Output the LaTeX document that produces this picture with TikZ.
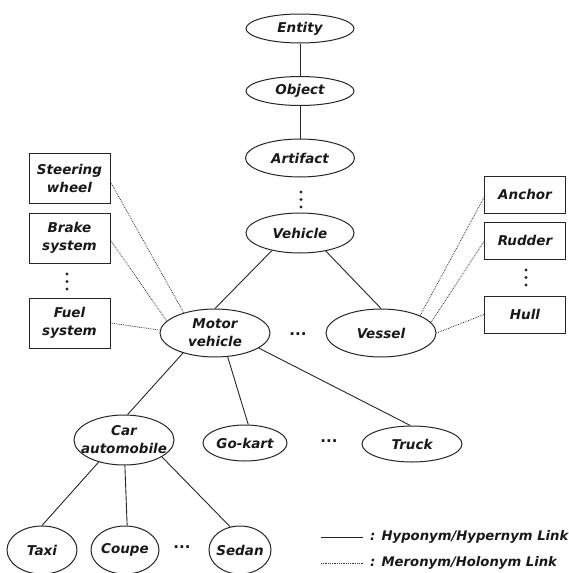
\documentclass[tikz,border=0pt]{standalone}
\usepackage{fontspec}
\setmainfont{DejaVu Sans}
\usetikzlibrary{shapes.geometric}
\begin{document}
\begin{tikzpicture}[x=1pt,y=-1pt,
  txt/.style={font=\fontsize{13.5}{18}\selectfont\bfseries\itshape, align=center, inner sep=0pt, text=black!90},
  lbl/.style={txt},
  ell/.style={draw=black!85, line width=1pt, ellipse, inner sep=0pt},
  box/.style={draw=black!85, line width=1pt, rectangle, minimum width=81pt, minimum height=50pt, txt},
  sbox/.style={box, minimum height=37pt},
  hyp/.style={draw=black!85, line width=0.9pt},
  mer/.style={draw=black!80, line width=0.8pt, densely dotted},
  legtxt/.style={font=\fontsize{13.2}{15}\selectfont\bfseries\itshape, anchor=west, inner sep=0pt, text=black!90},
  dotsnode/.style={txt, font=\fontsize{15}{18}\selectfont\bfseries}
]
\useasboundingbox[fill=white] (0,0) rectangle (569,573);

% hierarchy ellipses
\node[ell, minimum width=108pt, minimum height=29pt, label={[lbl]center:Entity}] (entity) at (300,28.5) {};
\node[ell, minimum width=108pt, minimum height=29pt, label={[lbl]center:Object}] (object) at (300,91) {};
\node[ell, minimum width=109pt, minimum height=38pt, label={[lbl]center:Artifact}] (artifact) at (300,158) {};
\node[ell, minimum width=108pt, minimum height=40pt, label={[lbl]center:Vehicle}] (vehicle) at (300,233) {};
\node[ell, minimum width=110pt, minimum height=48pt, label={[lbl]center:Motor\\vehicle}] (motor) at (215,333) {};
\node[ell, minimum width=110pt, minimum height=48pt, label={[lbl]center:Vessel}] (vessel) at (381,333) {};
\node[ell, minimum width=100pt, minimum height=50pt, label={[lbl]center:Car\\automobile}] (car) at (124,440) {};
\node[ell, minimum width=84pt, minimum height=36pt, label={[lbl]center:Go-kart}] (gokart) at (245,443) {};
\node[ell, minimum width=100pt, minimum height=36pt, label={[lbl]center:Truck}] (truck) at (412,444) {};
\node[ell, minimum width=70pt, minimum height=48pt, label={[lbl]center:Taxi}] (taxi) at (42,550) {};
\node[ell, minimum width=68pt, minimum height=48pt, label={[lbl]center:Coupe}] (coupe) at (125,550) {};
\node[ell, minimum width=62pt, minimum height=48pt, label={[lbl]center:Sedan}] (sedan) at (240,550) {};

% horizontal ellipses dots
\node[dotsnode] (d1) at (298,334) {...};
\node[dotsnode] (d2) at (329,441) {...};
\node[dotsnode] (d3) at (182,547) {...};

% vertical dots
\foreach \yy in {192,199.5,207} \fill[black!85] (301,\yy) circle (1.7);
\foreach \yy in {274,281.5,289} \fill[black!85] (67,\yy) circle (1.7);
\foreach \yy in {270,277.5,285} \fill[black!85] (526,\yy) circle (1.7);

% part boxes
\node[box] (steer) at (69.5,178) {Steering\\wheel};
\node[box] (brake) at (69.5,238) {Brake\\system};
\node[box] (fuel) at (69.5,323) {Fuel\\system};
\node[sbox] (anchor) at (525,194.5) {Anchor};
\node[sbox] (rudder) at (525,240.5) {Rudder};
\node[sbox] (hull) at (525,314.5) {Hull};

% hyponym links
\draw[hyp] (entity) -- (object);
\draw[hyp] (object) -- (artifact);
\draw[hyp] (vehicle.212) -- (motor.north);
\draw[hyp] (vehicle.325) -- (vessel.north);
\draw[hyp] (motor.212) -- (car.82);
\draw[hyp] (motor.298) -- (gokart.80);
\draw[hyp] (motor.341) -- (truck.95);
\draw[hyp] (car.221) -- (taxi.north);
\draw[hyp] (car.272) -- (coupe.85);
\draw[hyp] (car.336) -- (sedan.113);

% meronym links
\draw[mer] ([yshift=-4pt]steer.east) -- (motor.147);
\draw[mer] ([yshift=-2pt]brake.east) -- (motor.166);
\draw[mer] (fuel.east) -- (motor.177);
\draw[mer] ([yshift=-3pt]anchor.west) -- (vessel.24);
\draw[mer] ([yshift=-1pt]rudder.west) -- (vessel.12);
\draw[mer] (hull.west) -- (vessel.east);

% legend
\coordinate (l1a) at (321,537);
\coordinate (l1b) at (363,537);
\coordinate (l2a) at (321,563);
\coordinate (l2b) at (363,563);
\draw[hyp] (l1a) -- (l1b);
\draw[mer] (l2a) -- (l2b);
\node[legtxt] (leg1) at (370,537) {: Hyponym/Hypernym Link};
\node[legtxt] (leg2) at (370,563) {: Meronym/Holonym Link};
\end{tikzpicture}
\end{document}
